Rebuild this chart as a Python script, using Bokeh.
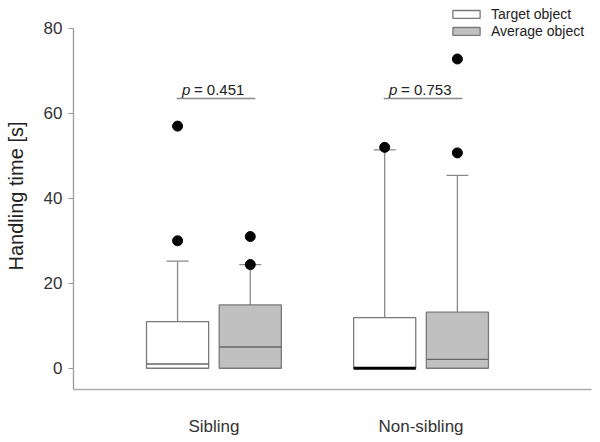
from bokeh.plotting import figure
from bokeh.models import (ColumnDataSource, FixedTicker, Legend, LegendItem, Range1d)
from bokeh.core.properties import value
from bokeh.embed import file_html
from bokeh.resources import INLINE

# ---- data ----
groups = ["Sibling", "Non-sibling"]
series = ["Target object", "Average object"]
q1 = {"Target object": [0.0, 0.0], "Average object": [0.0, 0.0]}
median = {"Target object": [1.0, 0.0], "Average object": [5.0, 2.1]}
q3 = {"Target object": [11.0, 11.9], "Average object": [14.9, 13.2]}
whisker_hi = {"Target object": [25.2, 51.4], "Average object": [24.4, 45.4]}
outliers = {
    "Target object": [[57.0, 30.0], [52.0]],
    "Average object": [[31.0, 24.4], [72.8, 50.7]],
}
p_values = ["0.451", "0.753"]
y_ticks = [0, 20, 40, 60, 80]

FONT = "Liberation Sans"
fills = {"Target object": "#ffffff", "Average object": "#c0c0c0"}
offsets = {"Target object": -0.1755, "Average object": 0.1755}
BOX_W = 0.30
CAP_HW = 0.053
P_Y = 63.5

p = figure(width=600, height=442, output_backend="svg", toolbar_location=None,
           x_range=Range1d(0.322, 2.823), y_range=Range1d(-5, 86.1),
           min_border_left=73, min_border_right=9, min_border_top=2,
           min_border_bottom=53)
p.outline_line_color = None
p.grid.grid_line_color = None
p.background_fill_color = "white"

legend_items = []
for s in series:
    xs = [i + 1 + offsets[s] for i in range(len(groups))]
    src = ColumnDataSource(dict(x=xs, q1=q1[s], q3=q3[s], med=median[s],
                                hi=whisker_hi[s],
                                x0=[x - BOX_W / 2 for x in xs],
                                x1=[x + BOX_W / 2 for x in xs],
                                c0=[x - CAP_HW for x in xs],
                                c1=[x + CAP_HW for x in xs]))
    # whiskers
    p.segment(x0="x", y0="q3", x1="x", y1="hi", source=src,
              line_color="#8a8a8a", line_width=1.3)
    p.segment(x0="c0", y0="hi", x1="c1", y1="hi", source=src,
              line_color="#8a8a8a", line_width=1.3)
    # boxes
    r = p.quad(left="x0", right="x1", bottom="q1", top="q3", source=src,
               fill_color=fills[s], line_color="#7a7a7a", line_width=1.3)
    legend_items.append(LegendItem(label=s, renderers=[r]))
    # medians
    med_x0, med_x1, med_y, med_col, med_w = [], [], [], [], []
    for i, m in enumerate(median[s]):
        med_x0.append(xs[i] - BOX_W / 2)
        med_x1.append(xs[i] + BOX_W / 2)
        med_y.append(m)
        med_col.append("#000000" if m == 0 else "#666666")
        med_w.append(3 if m == 0 else 1.3)
    p.segment(x0=med_x0, y0=med_y, x1=med_x1, y1=med_y,
              line_color=med_col, line_width=med_w)
    # outliers
    ox, oy = [], []
    for i, vals in enumerate(outliers[s]):
        for v in vals:
            ox.append(xs[i])
            oy.append(v)
    p.scatter(ox, oy, size=10, color="black")

# p-value brackets
gx = [i + 1 for i in range(len(groups))]
p.segment(x0=[g - 0.18 for g in gx], y0=[P_Y] * len(gx),
          x1=[g + 0.2 for g in gx], y1=[P_Y] * len(gx),
          line_color="#8a8a8a", line_width=1.3)
p.text(x=gx, y=[P_Y] * len(gx), text=["p"] * len(gx), x_offset=-32, y_offset=-9,
       text_font=value(FONT), text_font_style="italic", text_font_size="15px",
       text_color="#222222", text_align="left", text_baseline="alphabetic")
p.text(x=gx, y=[P_Y] * len(gx), text=["= " + v for v in p_values],
       x_offset=-20, y_offset=-9,
       text_font=value(FONT), text_font_size="15px",
       text_color="#222222", text_align="left", text_baseline="alphabetic")

# axes
p.yaxis.ticker = FixedTicker(ticks=y_ticks)
p.yaxis.bounds = (-5, 80)
p.yaxis.axis_label = "Handling time [s]"
p.yaxis.axis_label_text_font = FONT
p.yaxis.axis_label_text_font_size = "20px"
p.yaxis.axis_label_text_font_style = "normal"
p.yaxis.axis_label_text_color = "#222222"
p.yaxis.axis_label_standoff = 14
p.yaxis.major_label_text_font = FONT
p.yaxis.major_label_text_font_size = "17px"
p.yaxis.major_label_text_color = "#333333"
p.yaxis.major_label_standoff = 6
p.yaxis.major_tick_in = 0
p.yaxis.major_tick_out = 5
p.yaxis.minor_tick_line_color = None
p.yaxis.axis_line_color = "#999999"
p.yaxis.major_tick_line_color = "#999999"
p.yaxis.axis_line_width = 1.3

p.xaxis.ticker = FixedTicker(ticks=gx)
p.xaxis.major_label_overrides = {g: name for g, name in zip(gx, groups)}
p.xaxis.major_tick_in = 0
p.xaxis.major_tick_out = 0
p.xaxis.minor_tick_line_color = None
p.xaxis.major_label_standoff = 27
p.xaxis.major_label_text_font = FONT
p.xaxis.major_label_text_font_size = "17px"
p.xaxis.major_label_text_color = "#333333"
p.xaxis.axis_line_color = "#aaaaaa"
p.xaxis.axis_line_width = 1.3

legend = Legend(items=legend_items, location=(376, 350),
                glyph_width=34, glyph_height=10, label_height=14, spacing=1,
                padding=0, margin=0, label_standoff=8,
                label_text_font=FONT, label_text_font_size="14px",
                label_text_color="#222222",
                border_line_color=None, background_fill_alpha=0)
p.add_layout(legend, "center")

open("out.html", "w").write(file_html(p, INLINE))
